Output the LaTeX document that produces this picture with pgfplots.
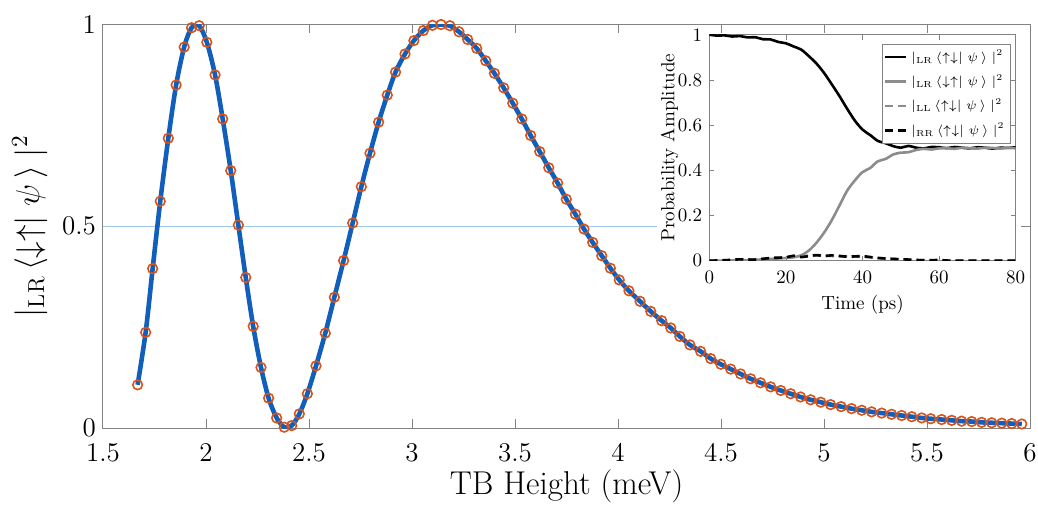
\RequirePackage{fix-cm}
\documentclass[border=0pt]{standalone}
\usepackage{fontspec}
\usepackage{pgfplots}
\usepackage{pgfplotstable}
\pgfplotsset{compat=1.18}

\definecolor{mblue}{RGB}{17,95,186}
\definecolor{morange}{RGB}{217,83,25}
\definecolor{refline}{RGB}{160,200,235}
\definecolor{axgray}{RGB}{130,130,130}
\definecolor{lgray}{RGB}{140,140,140}

% main curve, TB height (meV) vs probability
\pgfplotstableread{
x y
1.668 0.107
1.707 0.237
1.741 0.395
1.778 0.562
1.817 0.718
1.855 0.850
1.894 0.944
1.930 0.992
1.967 0.997
2.004 0.956
2.044 0.875
2.081 0.766
2.120 0.638
2.157 0.503
2.193 0.373
2.229 0.252
2.267 0.150
2.304 0.074
2.343 0.025
2.380 0.002
2.416 0.006
2.453 0.035
2.492 0.085
2.534 0.154
2.579 0.235
2.623 0.324
2.668 0.415
2.712 0.508
2.754 0.598
2.796 0.681
2.838 0.758
2.880 0.825
2.920 0.882
2.966 0.927
3.009 0.960
3.055 0.985
3.099 0.998
3.141 1.000
3.184 0.997
3.228 0.982
3.270 0.963
3.314 0.941
3.358 0.910
3.400 0.879
3.445 0.843
3.489 0.805
3.533 0.766
3.576 0.725
3.620 0.685
3.664 0.645
3.707 0.607
3.749 0.567
3.793 0.530
3.835 0.493
3.877 0.460
3.921 0.427
3.963 0.396
4.006 0.367
4.053 0.340
4.107 0.314
4.159 0.289
4.212 0.266
4.256 0.248
4.300 0.227
4.349 0.206
4.401 0.190
4.450 0.172
4.499 0.158
4.547 0.146
4.595 0.134
4.644 0.122
4.692 0.112
4.741 0.102
4.790 0.093
4.838 0.085
4.886 0.077
4.935 0.070
4.984 0.064
5.032 0.058
5.083 0.053
5.134 0.048
5.183 0.044
5.231 0.040
5.280 0.037
5.328 0.034
5.377 0.031
5.426 0.028
5.474 0.025
5.518 0.023
5.571 0.021
5.620 0.019
5.668 0.017
5.717 0.016
5.765 0.014
5.814 0.013
5.863 0.012
5.911 0.011
5.960 0.010
}\maindata

% inset: time evolution
\pgfplotstableread{
t p
0 1.000
2 0.996
4 0.997
6 0.992
8 0.994
10 0.988
12 0.989
14 0.980
16 0.979
18 0.968
20 0.962
22 0.948
24 0.934
26 0.905
28 0.872
30 0.830
32 0.780
34 0.728
36 0.672
38 0.620
40 0.580
42 0.556
44 0.530
46 0.520
48 0.507
50 0.500
52 0.508
54 0.500
56 0.497
58 0.503
60 0.502
62 0.498
64 0.503
66 0.500
68 0.497
70 0.502
72 0.500
74 0.496
76 0.500
78 0.499
80 0.502
}\lrud

\pgfplotstableread{
t p
0 0.000
4 0.000
8 0.002
12 0.004
16 0.008
20 0.012
22 0.015
24 0.024
26 0.045
28 0.080
30 0.125
32 0.180
34 0.245
36 0.310
38 0.355
40 0.392
42 0.410
44 0.440
46 0.450
48 0.470
50 0.478
52 0.480
54 0.490
56 0.495
58 0.492
60 0.497
62 0.498
64 0.495
66 0.500
68 0.498
70 0.496
72 0.500
74 0.499
76 0.496
78 0.500
80 0.497
}\lrdu

\pgfplotstableread{
t p
0 0.000
6 0.003
10 0.004
14 0.008
18 0.012
22 0.018
26 0.022
30 0.022
34 0.020
38 0.018
42 0.015
46 0.010
50 0.006
54 0.003
58 0.001
62 0.000
80 0.000
}\llud

\pgfplotstableread{
t p
0 0.000
4 0.002
8 0.006
12 0.005
16 0.012
20 0.015
22 0.022
24 0.016
28 0.025
30 0.020
32 0.024
36 0.018
40 0.020
44 0.012
48 0.008
52 0.005
56 0.002
60 0.003
64 0.000
80 0.000
}\rrud

\begin{document}
\begin{tikzpicture}
\path[use as bounding box] (-51.5pt,-41.5pt) rectangle (467.5pt,214pt);

\begin{axis}[
    at={(0,0)}, anchor=south west,
    scale only axis, width=463.5pt, height=201.75pt,
    xmin=1.5, xmax=6, ymin=0, ymax=1,
    xtick={1.5,2,2.5,3,3.5,4,4.5,5,5.5,6},
    ytick={0,0.5,1},
    /pgf/number format/assume math mode=true,
    axis line style={axgray, line width=0.5pt},
    tick style={axgray, line width=0.5pt},
    major tick length=4.3pt,
    tick label style={font=\fontsize{13.5}{15}\selectfont},
    xticklabel style={yshift=-4pt},
    label style={font=\fontsize{16.5}{18}\selectfont},
    xlabel={TB Height (meV)},
    xlabel style={at={(axis description cs:0.5,-0.165)}, anchor=base},
    ylabel={$|_{\mathrm{LR}}\,\langle{\downarrow}{\uparrow}|\;\psi\,\rangle\;|^2$},
    ylabel style={at={(axis description cs:-0.079,0.5)}, anchor=center},
  ]
  \addplot[refline, line width=0.5pt, forget plot] coordinates {(1.5,0.5) (4.189,0.5)};
  \addplot[mblue, line width=2.3pt, smooth, tension=0.5] table {\maindata};
  \addplot[morange, only marks, mark=o, mark size=2.4pt, mark options={line width=0.8pt}] table {\maindata};
\end{axis}

\begin{axis}[
    at={(303.15pt,83.65pt)}, anchor=south west,
    scale only axis, width=153.2pt, height=113pt,
    xmin=0, xmax=80, ymin=0, ymax=1,
    xtick={0,20,40,60,80},
    ytick={0,0.2,0.4,0.6,0.8,1},
    /pgf/number format/assume math mode=true,
    axis line style={axgray, line width=0.4pt},
    tick style={axgray, line width=0.4pt},
    major tick length=2.5pt,
    tick label style={font=\fontsize{9.5}{11}\selectfont},
    xticklabel style={yshift=-1.5pt},
    label style={font=\fontsize{9.5}{11}\selectfont},
    xlabel={Time (ps)},
    xlabel style={at={(axis description cs:0.5,-0.217)}, anchor=base},
    ylabel={Probability Amplitude},
    ylabel style={at={(axis description cs:-0.13,0.5)}, anchor=center},
    legend style={at={(0.985,0.96)}, anchor=north east,
      font=\fontsize{6.3}{7.5}\selectfont, draw=axgray,
      inner sep=1pt, row sep=1.2pt, cells={anchor=west}},
    legend image code/.code={\draw[#1] (0cm,0cm) -- (0.36cm,0cm);},
  ]
  \addplot[black, line width=1.3pt, smooth] table {\lrud};
  \addlegendentry{$|_{\mathrm{LR}}\,\langle{\uparrow}{\downarrow}|\;\psi\,\rangle\;|^2$}
  \addplot[lgray, line width=1.3pt, smooth] table {\lrdu};
  \addlegendentry{$|_{\mathrm{LR}}\,\langle{\downarrow}{\uparrow}|\;\psi\,\rangle\;|^2$}
  \addplot[lgray, line width=1.3pt, smooth, dash pattern=on 4pt off 2.5pt] table {\llud};
  \addlegendentry{$|_{\mathrm{LL}}\,\langle{\uparrow}{\downarrow}|\;\psi\,\rangle\;|^2$}
  \addplot[black, line width=1.3pt, smooth, dash pattern=on 4pt off 2.5pt] table {\rrud};
  \addlegendentry{$|_{\mathrm{RR}}\,\langle{\uparrow}{\downarrow}|\;\psi\,\rangle\;|^2$}
\end{axis}
\end{tikzpicture}
\end{document}
